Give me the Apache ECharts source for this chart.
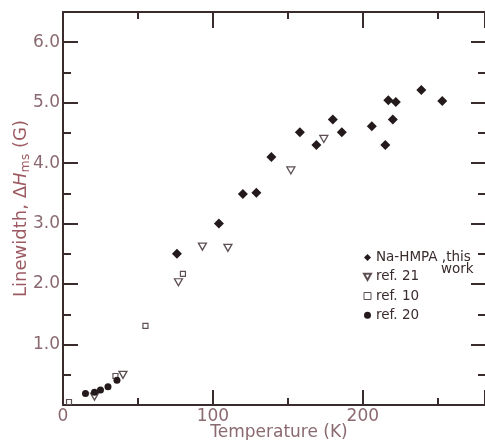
<!DOCTYPE html>
<html>
<head>
<meta charset="utf-8">
<script src="https://cdn.jsdelivr.net/npm/echarts@6/dist/echarts.min.js"></script>
<style>
html,body{margin:0;padding:0;background:#fff;}
#c{width:485px;height:440px;}
</style>
</head>
<body>
<div id="c"></div>
<script>
// Data: [Temperature (K), Linewidth (G)]
const naHmpa = [[76,2.5],[104,3.0],[120,3.49],[129,3.51],[139,4.1],[158,4.51],[169,4.3],[180,4.72],[186,4.51],[206,4.61],[215,4.3],[217,5.04],[220,4.72],[222,5.01],[239,5.21],[253,5.03]];
const ref21 = [[21,0.14],[40,0.5],[77,2.03],[93,2.62],[110,2.6],[152,3.88],[174,4.4]];
const ref10 = [[4,0.05],[35,0.48],[55,1.31],[80,2.17]];
const ref20 = [[15,0.19],[21,0.21],[25,0.25],[30,0.3],[36,0.41]];
const xLabels = [0, 100, 200];
const yLabels = [1, 2, 3, 4, 5, 6];
const seriesNames = ['Na-HMPA ,this work', 'ref. 21', 'ref. 10', 'ref. 20'];

const frame = '#3a2b2c';
const labelColor = '#8a6a70';
const titleColor = '#9c5a62';
const font = 'DejaVu Sans';
const X_MAX = 281.5, Y_MAX = 6.5;
const triDown = 'path://M0,0 L10,0 L5,9 Z';

function xAx(pos, interval, len, showLine, showLabel) {
  return {
    type: 'value', position: pos, min: 0, max: X_MAX, interval: interval,
    nameMoveOverlap: false,
    axisLine: {show: showLine, onZero: false, lineStyle: {color: frame, width: 2}},
    axisTick: {show: true, inside: true, length: len, lineStyle: {color: frame, width: 2}},
    axisLabel: {show: showLabel, color: labelColor, fontFamily: font, fontSize: 17, margin: 3,
      showMaxLabel: false, hideOverlap: false,
      formatter: v => xLabels.indexOf(v) >= 0 ? String(v) : ''},
    splitLine: {show: false}
  };
}
function yAx(pos, interval, len, showLine, showLabel) {
  return {
    type: 'value', position: pos, min: 0, max: Y_MAX, interval: interval,
    nameMoveOverlap: false,
    axisLine: {show: showLine, onZero: false, lineStyle: {color: frame, width: 2}},
    axisTick: {show: true, inside: true, length: len, lineStyle: {color: frame, width: 2}},
    axisLabel: {show: showLabel, color: labelColor, fontFamily: font, fontSize: 17, margin: 3,
      showMaxLabel: false, hideOverlap: false,
      formatter: v => yLabels.indexOf(v) >= 0 ? v.toFixed(1) : ''},
    splitLine: {show: false}
  };
}

const xAxes = [
  xAx('bottom', 50, 7, true, true),
  xAx('bottom', 100, 15, false, false),
  xAx('top', 50, 7, true, false),
  xAx('top', 100, 16, false, false)
];
xAxes[0].name = 'Temperature (K)';
xAxes[0].nameLocation = 'middle';
xAxes[0].nameGap = 19;
xAxes[0].nameTextStyle = {color: labelColor, fontFamily: font, fontSize: 17, padding: [0,0,0,10]};

const yAxes = [
  yAx('left', 0.5, 8, true, true),
  yAx('left', 1, 15, false, false),
  yAx('right', 0.5, 7, false, false),
  yAx('right', 1, 14, false, false)
];
yAxes[0].name = 'Linewidth, Δ{i|H}{sub|ms} (G)';
yAxes[0].nameLocation = 'middle';
yAxes[0].nameGap = 31;
yAxes[0].nameTextStyle = {
  color: titleColor, fontFamily: font, fontSize: 18,
  rich: {
    i: {color: titleColor, fontFamily: font, fontSize: 18, fontStyle: 'italic'},
    sub: {color: titleColor, fontFamily: font, fontSize: 12.5, padding: [8,0,0,0]}
  }
};

const chart = echarts.init(document.getElementById('c'), null, {renderer: 'canvas'});
chart.setOption({
  animation: false,
  backgroundColor: '#ffffff',
  grid: {left: 63, right: 0, top: 12, bottom: 35, containLabel: false, outerBoundsMode: 'none'},
  xAxis: xAxes,
  yAxis: yAxes,
  legend: {
    data: [
      {name: seriesNames[0], icon: 'diamond'},
      {name: seriesNames[1], icon: triDown},
      {name: seriesNames[2], icon: 'rect', itemStyle: {borderWidth: 1}},
      {name: seriesNames[3], icon: 'circle'}
    ],
    orient: 'vertical',
    left: 363, top: 249.5, padding: 0,
    itemWidth: 7, itemHeight: 7, itemGap: 3,
    textStyle: {color: '#3a2b2c', fontFamily: font, fontSize: 13.5, lineHeight: 16.2},
    formatter: n => n === seriesNames[0] ? 'Na-HMPA ,this' : n
  },
  graphic: [{
    type: 'text', left: 441, top: 262,
    style: {text: 'work', fill: '#3a2b2c', font: '13.5px "DejaVu Sans"'}
  }],
  series: [
    {name: seriesNames[0], type: 'scatter', data: naHmpa, symbol: 'diamond', symbolSize: [10, 10],
     itemStyle: {color: '#241a1c', opacity: 1}},
    {name: seriesNames[1], type: 'scatter', data: ref21, symbol: triDown, symbolSize: [8, 7],
     itemStyle: {color: '#ffffff', borderColor: '#5e5052', borderWidth: 1.3, opacity: 1}},
    {name: seriesNames[2], type: 'scatter', data: ref10, symbol: 'rect', symbolSize: 5,
     itemStyle: {color: '#ffffff', borderColor: '#5e5052', borderWidth: 1.2, opacity: 1}},
    {name: seriesNames[3], type: 'scatter', data: ref20, symbol: 'circle', symbolSize: 7,
     itemStyle: {color: '#241a1c', opacity: 1}}
  ]
});
</script>
</body>
</html>
